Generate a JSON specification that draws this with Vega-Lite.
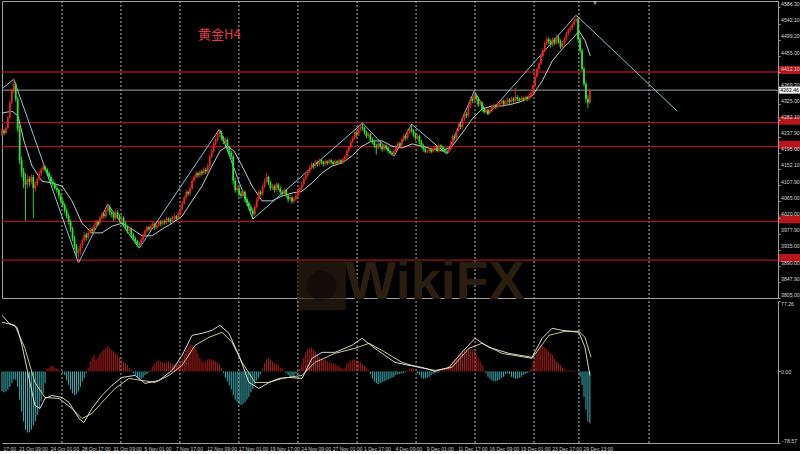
{
"$schema": "https://vega.github.io/schema/vega-lite/v6.json",
"background": "#000000",
"padding": 0,
"spacing": 3,
"bounds": "flush",
"config": {"view": {"stroke": "#a0a0a0", "strokeWidth": 1}, "font": "Liberation Sans"},
"datasets": {
"lv": [{"p":4412.2},{"p":4276},{"p":4211.5},{"p":4011},{"p":3907}],
"sep": [{"i":30.6},{"i":60.7},{"i":90.8},{"i":120.9},{"i":151},{"i":181.2},{"i":211.3},{"i":241.4},{"i":271.5},{"i":294.4},{"i":330.2}],
"zz": [{"i":0,"p":4367},{"i":6,"p":4393},{"i":39,"p":3899},{"i":54,"p":4057},{"i":70,"p":3939},{"i":111,"p":4259},{"i":128,"p":4017},{"i":184,"p":4275},{"i":200,"p":4186},{"i":209,"p":4272},{"i":227,"p":4192},{"i":241,"p":4361},{"i":248,"p":4298},{"i":293,"p":4565}],
"tl": [{"i":293,"p":4565},{"i":344.6,"p":4307}],
"ma": [{"i":0,"p":4302},{"i":5.1,"p":4307},{"i":8.2,"p":4294},{"i":11.2,"p":4227},{"i":15.3,"p":4160},{"i":20.4,"p":4119},{"i":25.5,"p":4114},{"i":30.6,"p":4106},{"i":35.7,"p":4066},{"i":40.8,"p":4006},{"i":45.9,"p":3980},{"i":51,"p":3980},{"i":56.2,"p":3998},{"i":61.3,"p":4006},{"i":66.4,"p":3990},{"i":71.5,"p":3972},{"i":76.6,"p":3972},{"i":81.7,"p":3990},{"i":86.8,"p":4006},{"i":91.9,"p":4025},{"i":97,"p":4066},{"i":102.1,"p":4106},{"i":107.2,"p":4160},{"i":111.3,"p":4200},{"i":114.9,"p":4213},{"i":118.4,"p":4200},{"i":122.5,"p":4160},{"i":127.6,"p":4106},{"i":132.7,"p":4066},{"i":137.8,"p":4066},{"i":142.9,"p":4079},{"i":148,"p":4087},{"i":153.1,"p":4092},{"i":158.2,"p":4114},{"i":163.3,"p":4141},{"i":168.5,"p":4160},{"i":173.6,"p":4168},{"i":178.7,"p":4187},{"i":183.8,"p":4213},{"i":188.9,"p":4227},{"i":194,"p":4227},{"i":199.1,"p":4213},{"i":204.2,"p":4208},{"i":209.3,"p":4219},{"i":214.4,"p":4213},{"i":219.5,"p":4205},{"i":224.6,"p":4200},{"i":229.7,"p":4213},{"i":234.8,"p":4248},{"i":239.9,"p":4286},{"i":245,"p":4313},{"i":250.1,"p":4321},{"i":255.2,"p":4321},{"i":260.3,"p":4326},{"i":265.4,"p":4334},{"i":270.5,"p":4348},{"i":275.7,"p":4388},{"i":280.8,"p":4442},{"i":285.9,"p":4474},{"i":291,"p":4501},{"i":294.5,"p":4522},{"i":297.6,"p":4496},{"i":300.2,"p":4455}],
"dif": [{"i":0,"v":61.6},{"i":3.6,"v":52.8},{"i":7.7,"v":48.4},{"i":10.2,"v":28.6},{"i":13.8,"v":-7.7},{"i":16.8,"v":-37.4},{"i":19.4,"v":-40.7},{"i":21.9,"v":-29.7},{"i":25.5,"v":-26.4},{"i":30.6,"v":-28.6},{"i":34.2,"v":-34.1},{"i":39.3,"v":-51.7},{"i":41.8,"v":-56.1},{"i":45.9,"v":-40.7},{"i":51,"v":-26.4},{"i":56.1,"v":-15.4},{"i":61.2,"v":-6.6},{"i":67.9,"v":-4.4},{"i":73,"v":-13.2},{"i":80.1,"v":-9.9},{"i":86.8,"v":1.1},{"i":91.9,"v":17.6},{"i":97,"v":39.6},{"i":102.1,"v":41.8},{"i":107.2,"v":45.1},{"i":111.2,"v":50.6},{"i":115.8,"v":41.8},{"i":120.9,"v":17.6},{"i":126,"v":-12.1},{"i":131.1,"v":-18.7},{"i":136.3,"v":-12.1},{"i":141.4,"v":-7.7},{"i":146.5,"v":-6.6},{"i":153.1,"v":-7.7},{"i":158.2,"v":14.3},{"i":163.3,"v":20.9},{"i":169.9,"v":20.9},{"i":178.6,"v":28.6},{"i":183.7,"v":36.3},{"i":190.3,"v":25.3},{"i":200.5,"v":9.9},{"i":207.7,"v":6.6},{"i":214.3,"v":4.4},{"i":221,"v":0},{"i":228.1,"v":4.4},{"i":234.7,"v":20.9},{"i":241.4,"v":36.3},{"i":248.5,"v":26.4},{"i":258.7,"v":19.8},{"i":270.5,"v":15.4},{"i":275.6,"v":36.3},{"i":280.7,"v":47.3},{"i":285.8,"v":45.1},{"i":294.4,"v":42.9},{"i":297.5,"v":26.4},{"i":300,"v":-4.4}],
"dea": [{"i":0,"v":53.9},{"i":6.6,"v":50.6},{"i":11.7,"v":25.3},{"i":16.8,"v":-12.1},{"i":21.9,"v":-28.6},{"i":29.1,"v":-29.7},{"i":35.7,"v":-40.7},{"i":40.8,"v":-51.7},{"i":45.9,"v":-46.2},{"i":51,"v":-34.1},{"i":57.7,"v":-18.7},{"i":64.8,"v":-7.7},{"i":71.4,"v":-9.9},{"i":78.1,"v":-12.1},{"i":85.2,"v":-4.4},{"i":91.9,"v":6.6},{"i":98.5,"v":28.6},{"i":105.6,"v":37.4},{"i":112.3,"v":42.9},{"i":117.4,"v":31.9},{"i":122.5,"v":9.9},{"i":129.1,"v":-12.1},{"i":136.3,"v":-12.1},{"i":142.9,"v":-7.7},{"i":153.1,"v":-4.4},{"i":159.7,"v":9.9},{"i":169.9,"v":19.8},{"i":180.1,"v":25.3},{"i":187.3,"v":30.8},{"i":193.9,"v":23.1},{"i":204.1,"v":9.9},{"i":212.8,"v":4.4},{"i":221,"v":1.1},{"i":229.6,"v":4.4},{"i":238.3,"v":25.3},{"i":244.9,"v":30.8},{"i":255.2,"v":19.8},{"i":270.5,"v":14.3},{"i":279.1,"v":39.6},{"i":287.3,"v":44},{"i":294.4,"v":44},{"i":297.5,"v":37.4},{"i":300.6,"v":15.4}],
"bars": [
{"i":0,"o":4245,"h":4262,"l":4240,"c":4255,"m":-22},{"i":1,"o":4255,"h":4260,"l":4242,"c":4248,"m":-23},{"i":2,"o":4248,"h":4266,"l":4245,"c":4262,"m":-22},{"i":3,"o":4262,"h":4295,"l":4258,"c":4290,"m":-20},{"i":4,"o":4290,"h":4336,"l":4286,"c":4330,"m":-17},{"i":5,"o":4330,"h":4368,"l":4325,"c":4362,"m":-13},{"i":6,"o":4362,"h":4393,"l":4355,"c":4380,"m":-9},{"i":7,"o":4380,"h":4386,"l":4332,"c":4340,"m":-9},{"i":8,"o":4340,"h":4345,"l":4252,"c":4260,"m":-17},{"i":9,"o":4260,"h":4268,"l":4165,"c":4175,"m":-31},
{"i":10,"o":4175,"h":4185,"l":4130,"c":4145,"m":-44},{"i":11,"o":4145,"h":4155,"l":4100,"c":4120,"m":-55},{"i":12,"o":4120,"h":4140,"l":4012,"c":4110,"m":-64},{"i":13,"o":4110,"h":4135,"l":4100,"c":4125,"m":-67},{"i":14,"o":4125,"h":4132,"l":4105,"c":4118,"m":-67},{"i":15,"o":4118,"h":4138,"l":4110,"c":4130,"m":-64},{"i":16,"o":4130,"h":4136,"l":4020,"c":4100,"m":-59},{"i":17,"o":4100,"h":4118,"l":4090,"c":4110,"m":-55},{"i":18,"o":4110,"h":4130,"l":4105,"c":4125,"m":-48},{"i":19,"o":4125,"h":4146,"l":4120,"c":4140,"m":-41},
{"i":20,"o":4140,"h":4155,"l":4132,"c":4150,"m":-33},{"i":21,"o":4150,"h":4166,"l":4145,"c":4158,"m":-24},{"i":22,"o":4158,"h":4162,"l":4144,"c":4150,"m":-13},{"i":23,"o":4150,"h":4155,"l":4134,"c":4140,"m":3},{"i":24,"o":4140,"h":4146,"l":4124,"c":4130,"m":4},{"i":25,"o":4130,"h":4135,"l":4112,"c":4118,"m":6},{"i":26,"o":4118,"h":4125,"l":4104,"c":4110,"m":6},{"i":27,"o":4110,"h":4116,"l":4094,"c":4100,"m":4},{"i":28,"o":4100,"h":4108,"l":4088,"c":4095,"m":3},{"i":29,"o":4095,"h":4100,"l":4072,"c":4080,"m":2},
{"i":30,"o":4080,"h":4086,"l":4058,"c":4065,"m":1},{"i":31,"o":4065,"h":4072,"l":4048,"c":4055,"m":-2},{"i":32,"o":4055,"h":4060,"l":4032,"c":4040,"m":-4},{"i":33,"o":4040,"h":4046,"l":4018,"c":4025,"m":-10},{"i":34,"o":4025,"h":4032,"l":4002,"c":4010,"m":-15},{"i":35,"o":4010,"h":4016,"l":3982,"c":3990,"m":-20},{"i":36,"o":3990,"h":3996,"l":3958,"c":3965,"m":-24},{"i":37,"o":3965,"h":3972,"l":3936,"c":3945,"m":-26},{"i":38,"o":3945,"h":3950,"l":3915,"c":3925,"m":-25},{"i":39,"o":3925,"h":3938,"l":3899,"c":3930,"m":-22},
{"i":40,"o":3930,"h":3952,"l":3922,"c":3945,"m":-17},{"i":41,"o":3945,"h":3966,"l":3938,"c":3960,"m":-11},{"i":42,"o":3960,"h":3982,"l":3955,"c":3975,"m":-7},{"i":43,"o":3975,"h":3980,"l":3960,"c":3968,"m":-2},{"i":44,"o":3968,"h":3986,"l":3962,"c":3980,"m":4},{"i":45,"o":3980,"h":3996,"l":3975,"c":3990,"m":11},{"i":46,"o":3990,"h":3995,"l":3978,"c":3985,"m":15},{"i":47,"o":3985,"h":4006,"l":3980,"c":4000,"m":18},{"i":48,"o":4000,"h":4016,"l":3995,"c":4010,"m":13},{"i":49,"o":4010,"h":4014,"l":3998,"c":4005,"m":15},
{"i":50,"o":4005,"h":4026,"l":4000,"c":4020,"m":19},{"i":51,"o":4020,"h":4036,"l":4015,"c":4030,"m":22},{"i":52,"o":4030,"h":4034,"l":4018,"c":4025,"m":24},{"i":53,"o":4025,"h":4046,"l":4020,"c":4040,"m":26},{"i":54,"o":4040,"h":4057,"l":4035,"c":4050,"m":28},{"i":55,"o":4050,"h":4054,"l":4028,"c":4035,"m":26},{"i":56,"o":4035,"h":4040,"l":4022,"c":4030,"m":24},{"i":57,"o":4030,"h":4035,"l":4012,"c":4020,"m":22},{"i":58,"o":4020,"h":4042,"l":4015,"c":4035,"m":20},{"i":59,"o":4035,"h":4040,"l":4018,"c":4025,"m":18},
{"i":60,"o":4025,"h":4030,"l":4008,"c":4015,"m":15},{"i":61,"o":4015,"h":4028,"l":4010,"c":4020,"m":13},{"i":62,"o":4020,"h":4024,"l":3998,"c":4005,"m":11},{"i":63,"o":4005,"h":4010,"l":3988,"c":3995,"m":9},{"i":64,"o":3995,"h":4000,"l":3978,"c":3985,"m":7},{"i":65,"o":3985,"h":3996,"l":3980,"c":3990,"m":4},{"i":66,"o":3990,"h":3994,"l":3968,"c":3975,"m":2},{"i":67,"o":3975,"h":3980,"l":3958,"c":3965,"m":-2},{"i":68,"o":3965,"h":3970,"l":3950,"c":3958,"m":-4},{"i":69,"o":3958,"h":3962,"l":3942,"c":3950,"m":-7},
{"i":70,"o":3950,"h":3956,"l":3939,"c":3948,"m":-8},{"i":71,"o":3948,"h":3968,"l":3944,"c":3962,"m":-8},{"i":72,"o":3962,"h":3980,"l":3956,"c":3975,"m":-7},{"i":73,"o":3975,"h":3990,"l":3970,"c":3985,"m":-4},{"i":74,"o":3985,"h":4000,"l":3980,"c":3995,"m":-3},{"i":75,"o":3995,"h":3999,"l":3984,"c":3990,"m":-1},{"i":76,"o":3990,"h":4004,"l":3985,"c":3998,"m":2},{"i":77,"o":3998,"h":4012,"l":3992,"c":4005,"m":6},{"i":78,"o":4005,"h":4008,"l":3988,"c":3995,"m":9},{"i":79,"o":3995,"h":4006,"l":3990,"c":4000,"m":11},
{"i":80,"o":4000,"h":4016,"l":3995,"c":4010,"m":12},{"i":81,"o":4010,"h":4014,"l":3998,"c":4005,"m":11},{"i":82,"o":4005,"h":4018,"l":4000,"c":4012,"m":10},{"i":83,"o":4012,"h":4016,"l":4002,"c":4008,"m":9},{"i":84,"o":4008,"h":4024,"l":4004,"c":4018,"m":10},{"i":85,"o":4018,"h":4022,"l":4008,"c":4015,"m":11},{"i":86,"o":4015,"h":4020,"l":4004,"c":4010,"m":9},{"i":87,"o":4010,"h":4026,"l":4006,"c":4020,"m":8},{"i":88,"o":4020,"h":4032,"l":4015,"c":4025,"m":7},{"i":89,"o":4025,"h":4028,"l":4012,"c":4018,"m":8},
{"i":90,"o":4018,"h":4036,"l":4014,"c":4030,"m":9},{"i":91,"o":4030,"h":4050,"l":4026,"c":4045,"m":11},{"i":92,"o":4045,"h":4066,"l":4040,"c":4060,"m":15},{"i":93,"o":4060,"h":4080,"l":4055,"c":4075,"m":20},{"i":94,"o":4075,"h":4096,"l":4070,"c":4090,"m":24},{"i":95,"o":4090,"h":4094,"l":4078,"c":4085,"m":28},{"i":96,"o":4085,"h":4106,"l":4080,"c":4100,"m":30},{"i":97,"o":4100,"h":4126,"l":4095,"c":4120,"m":29},{"i":98,"o":4120,"h":4136,"l":4114,"c":4130,"m":26},{"i":99,"o":4130,"h":4146,"l":4125,"c":4140,"m":24},
{"i":100,"o":4140,"h":4144,"l":4128,"c":4135,"m":20},{"i":101,"o":4135,"h":4150,"l":4130,"c":4145,"m":15},{"i":102,"o":4145,"h":4150,"l":4134,"c":4140,"m":11},{"i":103,"o":4140,"h":4156,"l":4135,"c":4150,"m":10},{"i":104,"o":4150,"h":4155,"l":4138,"c":4145,"m":11},{"i":105,"o":4145,"h":4166,"l":4140,"c":4160,"m":13},{"i":106,"o":4160,"h":4190,"l":4155,"c":4185,"m":14},{"i":107,"o":4185,"h":4206,"l":4180,"c":4200,"m":13},{"i":108,"o":4200,"h":4226,"l":4195,"c":4220,"m":12},{"i":109,"o":4220,"h":4236,"l":4214,"c":4230,"m":11},
{"i":110,"o":4230,"h":4250,"l":4225,"c":4245,"m":10},{"i":111,"o":4245,"h":4259,"l":4238,"c":4250,"m":8},{"i":112,"o":4250,"h":4255,"l":4228,"c":4235,"m":4},{"i":113,"o":4235,"h":4240,"l":4218,"c":4225,"m":-2},{"i":114,"o":4225,"h":4236,"l":4220,"c":4230,"m":-7},{"i":115,"o":4230,"h":4234,"l":4204,"c":4210,"m":-11},{"i":116,"o":4210,"h":4215,"l":4188,"c":4195,"m":-15},{"i":117,"o":4195,"h":4200,"l":4178,"c":4185,"m":-20},{"i":118,"o":4185,"h":4190,"l":4110,"c":4120,"m":-26},{"i":119,"o":4120,"h":4128,"l":4088,"c":4095,"m":-31},
{"i":120,"o":4095,"h":4108,"l":4090,"c":4100,"m":-34},{"i":121,"o":4100,"h":4105,"l":4078,"c":4085,"m":-36},{"i":122,"o":4085,"h":4092,"l":4072,"c":4080,"m":-37},{"i":123,"o":4080,"h":4096,"l":4075,"c":4090,"m":-36},{"i":124,"o":4090,"h":4094,"l":4062,"c":4070,"m":-34},{"i":125,"o":4070,"h":4076,"l":4052,"c":4060,"m":-31},{"i":126,"o":4060,"h":4066,"l":4042,"c":4050,"m":-28},{"i":127,"o":4050,"h":4056,"l":4032,"c":4040,"m":-23},{"i":128,"o":4040,"h":4046,"l":4017,"c":4030,"m":-19},{"i":129,"o":4030,"h":4056,"l":4025,"c":4050,"m":-14},
{"i":130,"o":4050,"h":4076,"l":4045,"c":4070,"m":-10},{"i":131,"o":4070,"h":4096,"l":4065,"c":4090,"m":-7},{"i":132,"o":4090,"h":4095,"l":4078,"c":4085,"m":-3},{"i":133,"o":4085,"h":4110,"l":4080,"c":4105,"m":3},{"i":134,"o":4105,"h":4126,"l":4100,"c":4120,"m":9},{"i":135,"o":4120,"h":4141,"l":4115,"c":4130,"m":13},{"i":136,"o":4130,"h":4134,"l":4108,"c":4115,"m":15},{"i":137,"o":4115,"h":4120,"l":4094,"c":4100,"m":13},{"i":138,"o":4100,"h":4112,"l":4095,"c":4105,"m":11},{"i":139,"o":4105,"h":4110,"l":4088,"c":4095,"m":9},
{"i":140,"o":4095,"h":4116,"l":4090,"c":4110,"m":8},{"i":141,"o":4110,"h":4114,"l":4094,"c":4100,"m":7},{"i":142,"o":4100,"h":4105,"l":4084,"c":4090,"m":4},{"i":143,"o":4090,"h":4095,"l":4078,"c":4085,"m":3},{"i":144,"o":4085,"h":4100,"l":4080,"c":4095,"m":1},{"i":145,"o":4095,"h":4098,"l":4074,"c":4080,"m":-2},{"i":146,"o":4080,"h":4085,"l":4062,"c":4070,"m":-4},{"i":147,"o":4070,"h":4082,"l":4065,"c":4075,"m":-7},{"i":148,"o":4075,"h":4078,"l":4058,"c":4065,"m":-7},{"i":149,"o":4065,"h":4076,"l":4060,"c":4070,"m":-6},
{"i":150,"o":4070,"h":4086,"l":4065,"c":4080,"m":-3},{"i":151,"o":4080,"h":4096,"l":4075,"c":4090,"m":-1},{"i":152,"o":4090,"h":4106,"l":4085,"c":4100,"m":3},{"i":153,"o":4100,"h":4116,"l":4095,"c":4110,"m":9},{"i":154,"o":4110,"h":4130,"l":4105,"c":4125,"m":15},{"i":155,"o":4125,"h":4140,"l":4120,"c":4135,"m":21},{"i":156,"o":4135,"h":4150,"l":4130,"c":4145,"m":24},{"i":157,"o":4145,"h":4160,"l":4140,"c":4155,"m":25},{"i":158,"o":4155,"h":4170,"l":4150,"c":4165,"m":26},{"i":159,"o":4165,"h":4168,"l":4152,"c":4160,"m":24},
{"i":160,"o":4160,"h":4176,"l":4155,"c":4170,"m":22},{"i":161,"o":4170,"h":4174,"l":4158,"c":4165,"m":19},{"i":162,"o":4165,"h":4180,"l":4160,"c":4175,"m":15},{"i":163,"o":4175,"h":4178,"l":4164,"c":4170,"m":14},{"i":164,"o":4170,"h":4174,"l":4158,"c":4165,"m":13},{"i":165,"o":4165,"h":4178,"l":4160,"c":4172,"m":12},{"i":166,"o":4172,"h":4175,"l":4162,"c":4168,"m":11},{"i":167,"o":4168,"h":4180,"l":4164,"c":4175,"m":10},{"i":168,"o":4175,"h":4178,"l":4165,"c":4170,"m":9},{"i":169,"o":4170,"h":4174,"l":4160,"c":4165,"m":9},
{"i":170,"o":4165,"h":4178,"l":4160,"c":4172,"m":8},{"i":171,"o":4172,"h":4175,"l":4162,"c":4168,"m":7},{"i":172,"o":4168,"h":4180,"l":4164,"c":4175,"m":6},{"i":173,"o":4175,"h":4178,"l":4165,"c":4170,"m":4},{"i":174,"o":4170,"h":4184,"l":4166,"c":4178,"m":3},{"i":175,"o":4178,"h":4190,"l":4174,"c":4185,"m":4},{"i":176,"o":4185,"h":4206,"l":4180,"c":4200,"m":8},{"i":177,"o":4200,"h":4216,"l":4195,"c":4210,"m":10},{"i":178,"o":4210,"h":4230,"l":4205,"c":4225,"m":12},{"i":179,"o":4225,"h":4240,"l":4220,"c":4235,"m":13},
{"i":180,"o":4235,"h":4256,"l":4230,"c":4250,"m":13},{"i":181,"o":4250,"h":4254,"l":4238,"c":4245,"m":12},{"i":182,"o":4245,"h":4264,"l":4240,"c":4258,"m":11},{"i":183,"o":4258,"h":4272,"l":4252,"c":4265,"m":10},{"i":184,"o":4265,"h":4275,"l":4255,"c":4262,"m":8},{"i":185,"o":4262,"h":4266,"l":4244,"c":4250,"m":6},{"i":186,"o":4250,"h":4255,"l":4234,"c":4240,"m":3},{"i":187,"o":4240,"h":4250,"l":4236,"c":4245,"m":1},{"i":188,"o":4245,"h":4248,"l":4224,"c":4230,"m":-3},{"i":189,"o":4230,"h":4236,"l":4218,"c":4225,"m":-8},
{"i":190,"o":4225,"h":4228,"l":4208,"c":4215,"m":-11},{"i":191,"o":4215,"h":4220,"l":4190,"c":4210,"m":-13},{"i":192,"o":4210,"h":4226,"l":4205,"c":4220,"m":-14},{"i":193,"o":4220,"h":4224,"l":4206,"c":4212,"m":-13},{"i":194,"o":4212,"h":4216,"l":4198,"c":4205,"m":-12},{"i":195,"o":4205,"h":4220,"l":4200,"c":4215,"m":-11},{"i":196,"o":4215,"h":4218,"l":4202,"c":4208,"m":-10},{"i":197,"o":4208,"h":4212,"l":4194,"c":4200,"m":-9},{"i":198,"o":4200,"h":4205,"l":4190,"c":4195,"m":-8},{"i":199,"o":4195,"h":4200,"l":4187,"c":4192,"m":-7},
{"i":200,"o":4192,"h":4206,"l":4186,"c":4200,"m":-6},{"i":201,"o":4200,"h":4216,"l":4195,"c":4210,"m":-4},{"i":202,"o":4210,"h":4226,"l":4205,"c":4220,"m":-3},{"i":203,"o":4220,"h":4224,"l":4208,"c":4215,"m":-3},{"i":204,"o":4215,"h":4236,"l":4210,"c":4230,"m":-2},{"i":205,"o":4230,"h":4246,"l":4225,"c":4240,"m":-2},{"i":206,"o":4240,"h":4244,"l":4228,"c":4235,"m":-1},{"i":207,"o":4235,"h":4256,"l":4230,"c":4250,"m":1},{"i":208,"o":4250,"h":4266,"l":4245,"c":4260,"m":3},{"i":209,"o":4260,"h":4272,"l":4248,"c":4255,"m":4},
{"i":210,"o":4255,"h":4258,"l":4238,"c":4245,"m":3},{"i":211,"o":4245,"h":4250,"l":4228,"c":4235,"m":1},{"i":212,"o":4235,"h":4246,"l":4230,"c":4240,"m":-2},{"i":213,"o":4240,"h":4244,"l":4218,"c":4225,"m":-4},{"i":214,"o":4225,"h":4230,"l":4208,"c":4215,"m":-7},{"i":215,"o":4215,"h":4220,"l":4198,"c":4205,"m":-8},{"i":216,"o":4205,"h":4210,"l":4194,"c":4198,"m":-8},{"i":217,"o":4198,"h":4204,"l":4193,"c":4200,"m":-7},{"i":218,"o":4200,"h":4208,"l":4194,"c":4204,"m":-6},{"i":219,"o":4204,"h":4207,"l":4194,"c":4198,"m":-4},
{"i":220,"o":4198,"h":4210,"l":4195,"c":4205,"m":-3},{"i":221,"o":4205,"h":4216,"l":4200,"c":4210,"m":-2},{"i":222,"o":4210,"h":4214,"l":4196,"c":4200,"m":-1},{"i":223,"o":4200,"h":4220,"l":4196,"c":4215,"m":-1},{"i":224,"o":4215,"h":4218,"l":4204,"c":4210,"m":1},{"i":225,"o":4210,"h":4214,"l":4198,"c":4205,"m":2},{"i":226,"o":4205,"h":4210,"l":4195,"c":4198,"m":3},{"i":227,"o":4198,"h":4202,"l":4192,"c":4196,"m":4},{"i":228,"o":4196,"h":4210,"l":4194,"c":4205,"m":6},{"i":229,"o":4205,"h":4226,"l":4200,"c":4220,"m":8},
{"i":230,"o":4220,"h":4246,"l":4215,"c":4240,"m":11},{"i":231,"o":4240,"h":4244,"l":4228,"c":4235,"m":13},{"i":232,"o":4235,"h":4260,"l":4230,"c":4255,"m":15},{"i":233,"o":4255,"h":4276,"l":4250,"c":4270,"m":18},{"i":234,"o":4270,"h":4274,"l":4258,"c":4265,"m":20},{"i":235,"o":4265,"h":4290,"l":4260,"c":4285,"m":22},{"i":236,"o":4285,"h":4306,"l":4280,"c":4300,"m":23},{"i":237,"o":4300,"h":4304,"l":4288,"c":4295,"m":24},{"i":238,"o":4295,"h":4326,"l":4290,"c":4320,"m":25},{"i":239,"o":4320,"h":4346,"l":4315,"c":4340,"m":24},
{"i":240,"o":4340,"h":4345,"l":4328,"c":4335,"m":23},{"i":241,"o":4335,"h":4361,"l":4330,"c":4350,"m":22},{"i":242,"o":4350,"h":4354,"l":4334,"c":4340,"m":19},{"i":243,"o":4340,"h":4345,"l":4318,"c":4325,"m":15},{"i":244,"o":4325,"h":4336,"l":4320,"c":4330,"m":11},{"i":245,"o":4330,"h":4334,"l":4305,"c":4312,"m":7},{"i":246,"o":4312,"h":4318,"l":4300,"c":4305,"m":2},{"i":247,"o":4305,"h":4316,"l":4300,"c":4310,"m":-2},{"i":248,"o":4310,"h":4314,"l":4298,"c":4302,"m":-6},{"i":249,"o":4302,"h":4316,"l":4300,"c":4310,"m":-8},
{"i":250,"o":4310,"h":4324,"l":4305,"c":4318,"m":-10},{"i":251,"o":4318,"h":4328,"l":4314,"c":4322,"m":-11},{"i":252,"o":4322,"h":4326,"l":4312,"c":4318,"m":-11},{"i":253,"o":4318,"h":4330,"l":4314,"c":4325,"m":-10},{"i":254,"o":4325,"h":4336,"l":4320,"c":4330,"m":-9},{"i":255,"o":4330,"h":4340,"l":4325,"c":4335,"m":-7},{"i":256,"o":4335,"h":4338,"l":4320,"c":4325,"m":-6},{"i":257,"o":4325,"h":4336,"l":4322,"c":4330,"m":-3},{"i":258,"o":4330,"h":4344,"l":4326,"c":4338,"m":-2},{"i":259,"o":4338,"h":4342,"l":4326,"c":4332,"m":-3},
{"i":260,"o":4332,"h":4346,"l":4328,"c":4340,"m":-6},{"i":261,"o":4340,"h":4344,"l":4330,"c":4335,"m":-7},{"i":262,"o":4335,"h":4370,"l":4330,"c":4345,"m":-8},{"i":263,"o":4345,"h":4350,"l":4334,"c":4340,"m":-8},{"i":264,"o":4340,"h":4344,"l":4330,"c":4336,"m":-7},{"i":265,"o":4336,"h":4348,"l":4332,"c":4342,"m":-6},{"i":266,"o":4342,"h":4346,"l":4332,"c":4338,"m":-4},{"i":267,"o":4338,"h":4350,"l":4334,"c":4345,"m":-3},{"i":268,"o":4345,"h":4348,"l":4334,"c":4340,"m":-2},{"i":269,"o":4340,"h":4354,"l":4336,"c":4348,"m":-1},
{"i":270,"o":4348,"h":4360,"l":4344,"c":4355,"m":3},{"i":271,"o":4355,"h":4380,"l":4350,"c":4375,"m":9},{"i":272,"o":4375,"h":4406,"l":4370,"c":4400,"m":15},{"i":273,"o":4400,"h":4426,"l":4395,"c":4420,"m":21},{"i":274,"o":4420,"h":4440,"l":4415,"c":4435,"m":25},{"i":275,"o":4435,"h":4460,"l":4430,"c":4455,"m":29},{"i":276,"o":4455,"h":4476,"l":4450,"c":4470,"m":28},{"i":277,"o":4470,"h":4496,"l":4465,"c":4490,"m":26},{"i":278,"o":4490,"h":4508,"l":4484,"c":4500,"m":24},{"i":279,"o":4500,"h":4505,"l":4488,"c":4495,"m":22},
{"i":280,"o":4495,"h":4500,"l":4478,"c":4485,"m":20},{"i":281,"o":4485,"h":4506,"l":4480,"c":4500,"m":18},{"i":282,"o":4500,"h":4504,"l":4484,"c":4490,"m":14},{"i":283,"o":4490,"h":4512,"l":4486,"c":4505,"m":11},{"i":284,"o":4505,"h":4510,"l":4488,"c":4495,"m":9},{"i":285,"o":4495,"h":4500,"l":4474,"c":4480,"m":7},{"i":286,"o":4480,"h":4496,"l":4476,"c":4490,"m":4},{"i":287,"o":4490,"h":4506,"l":4485,"c":4500,"m":2},{"i":288,"o":4500,"h":4520,"l":4495,"c":4515,"m":1},{"i":289,"o":4515,"h":4530,"l":4510,"c":4525,"m":1},
{"i":290,"o":4525,"h":4536,"l":4520,"c":4530,"m":1},{"i":291,"o":4530,"h":4546,"l":4525,"c":4540,"m":1},{"i":292,"o":4540,"h":4556,"l":4535,"c":4550,"m":1},{"i":293,"o":4550,"h":4565,"l":4545,"c":4555,"m":0.5},{"i":294,"o":4555,"h":4560,"l":4494,"c":4500,"m":-1},{"i":295,"o":4500,"h":4506,"l":4462,"c":4470,"m":-6},{"i":296,"o":4470,"h":4476,"l":4414,"c":4420,"m":-15},{"i":297,"o":4420,"h":4426,"l":4374,"c":4380,"m":-28},{"i":298,"o":4380,"h":4386,"l":4330,"c":4340,"m":-42},{"i":299,"o":4340,"h":4350,"l":4315,"c":4330,"m":-55},
{"i":300,"o":4330,"h":4368,"l":4326,"c":4363,"m":-57}
]
},
"vconcat": [
{
"width": 776, "height": 297,
"resolve": {"axis": {"x": "independent", "y": "independent"}},
"layer": [
{"data": {"name": "sep"}, "mark": {"type": "rule", "strokeDash": [2, 2], "color": "#b4b4b4", "strokeWidth": 1},
 "encoding": {"x": {"field": "i", "type": "quantitative", "scale": {"domain": [0, 396]}, "axis": null}}},
{"data": {"name": "lv"}, "mark": {"type": "rule", "color": "#a3161e", "strokeWidth": 1.3},
 "encoding": {"y": {"field": "p", "type": "quantitative", "scale": {"domain": [3805, 4603], "zero": false, "nice": false},
   "axis": {"orient": "right", "values": [4586.3, 4542.1, 4499.2, 4455, 4412.1, 4369.2, 4325, 4282.1, 4237.9, 4195, 4152.1, 4107.9, 4065, 4020, 3977.9, 3935, 3890, 3847.9, 3805], "format": ".2f", "labelFontSize": 5.2, "labelColor": "#d6d6d6", "labelFont": "Liberation Sans", "tickSize": 2, "tickColor": "#a0a0a0", "domainColor": "#a0a0a0", "labelPadding": 0.5, "labelOffset": -4, "grid": false, "title": null, "labelOverlap": false, "labelBound": false, "zindex": 1}}}},
{"data": {"values": [{}]}, "mark": {"type": "rule", "color": "#a0a0a0", "strokeWidth": 1},
 "encoding": {"y": {"datum": 4363.46, "type": "quantitative", "scale": {"domain": [3805, 4603], "zero": false, "nice": false}, "axis": null}}},
{"data": {"values": [{}]}, "mark": {"type": "point", "shape": "square", "filled": true, "size": 2400, "color": "#2a1e10", "opacity": 0.7},
 "encoding": {"x": {"datum": 163, "type": "quantitative", "scale": {"domain": [0, 396]}, "axis": null}, "y": {"datum": 3838, "type": "quantitative", "scale": {"domain": [3805, 4603], "zero": false, "nice": false}, "axis": null}}},
{"data": {"values": [{}]}, "mark": {"type": "point", "shape": "circle", "filled": true, "size": 900, "color": "#000000", "opacity": 0.35},
 "encoding": {"x": {"datum": 163, "type": "quantitative", "scale": {"domain": [0, 396]}, "axis": null}, "y": {"datum": 3838, "type": "quantitative", "scale": {"domain": [3805, 4603], "zero": false, "nice": false}, "axis": null}}},
{"data": {"values": [{}]}, "mark": {"type": "text", "text": "WikiFX", "fontSize": 54, "fontWeight": "bold", "font": "Liberation Sans", "color": "#2a1e10", "align": "center", "baseline": "middle"},
 "encoding": {"x": {"datum": 221, "type": "quantitative", "scale": {"domain": [0, 396]}, "axis": null}, "y": {"datum": 3845, "type": "quantitative", "scale": {"domain": [3805, 4603], "zero": false, "nice": false}, "axis": null}}},
{"data": {"name": "ma"}, "mark": {"type": "line", "color": "#cfe4e4", "strokeWidth": 0.9, "clip": true},
 "encoding": {"x": {"field": "i", "type": "quantitative", "scale": {"domain": [0, 396]}, "axis": null}, "y": {"field": "p", "type": "quantitative", "scale": {"domain": [3805, 4603], "zero": false, "nice": false}, "axis": null}}},
{"data": {"name": "zz"}, "mark": {"type": "line", "color": "#86c6da", "strokeWidth": 1, "clip": true},
 "encoding": {"x": {"field": "i", "type": "quantitative", "scale": {"domain": [0, 396]}, "axis": null}, "y": {"field": "p", "type": "quantitative", "scale": {"domain": [3805, 4603], "zero": false, "nice": false}, "axis": null}}},
{"data": {"name": "tl"}, "mark": {"type": "line", "color": "#8cc4d0", "strokeWidth": 1, "clip": true},
 "encoding": {"x": {"field": "i", "type": "quantitative", "scale": {"domain": [0, 396]}, "axis": null}, "y": {"field": "p", "type": "quantitative", "scale": {"domain": [3805, 4603], "zero": false, "nice": false}, "axis": null}}},
{"data": {"name": "bars"}, "mark": {"type": "rule", "strokeWidth": 0.9},
 "encoding": {"x": {"field": "i", "type": "quantitative", "scale": {"domain": [0, 396]}, "axis": null}, "y": {"field": "l", "type": "quantitative", "scale": {"domain": [3805, 4603], "zero": false, "nice": false}, "axis": null}, "y2": {"field": "h"},
  "color": {"condition": {"test": "datum.c >= datum.o", "value": "#e8251c"}, "value": "#2ce62c"}}},
{"data": {"name": "bars"}, "mark": {"type": "rule", "strokeWidth": 1.8},
 "encoding": {"x": {"field": "i", "type": "quantitative", "scale": {"domain": [0, 396]}, "axis": null}, "y": {"field": "o", "type": "quantitative", "scale": {"domain": [3805, 4603], "zero": false, "nice": false}, "axis": null}, "y2": {"field": "c"},
  "color": {"condition": {"test": "datum.c >= datum.o", "value": "#e8251c"}, "value": "#2ce62c"}}},
{"data": {"values": [{}]}, "mark": {"type": "text", "text": "黄金H4", "fontSize": 13, "font": "Noto Sans CJK SC", "color": "#e23a48", "align": "left", "baseline": "middle"},
 "encoding": {"x": {"datum": 100, "type": "quantitative", "scale": {"domain": [0, 396]}, "axis": null}, "y": {"datum": 4511, "type": "quantitative", "scale": {"domain": [3805, 4603], "zero": false, "nice": false}, "axis": null}}},
{"data": {"name": "lv"}, "mark": {"type": "tick", "orient": "horizontal", "size": 22, "thickness": 8, "color": "#b8141c", "opacity": 1, "yOffset": -2},
 "encoding": {"x": {"datum": 402.1, "type": "quantitative", "scale": {"domain": [0, 396]}, "axis": null}, "y": {"field": "p", "type": "quantitative", "scale": {"domain": [3805, 4603], "zero": false, "nice": false}, "axis": null}}},
{"data": {"values": [{}]}, "mark": {"type": "tick", "orient": "horizontal", "size": 21, "thickness": 7, "color": "#f2f2f2", "opacity": 1},
 "encoding": {"x": {"datum": 401.9, "type": "quantitative", "scale": {"domain": [0, 396]}, "axis": null}, "y": {"datum": 4363.46, "type": "quantitative", "scale": {"domain": [3805, 4603], "zero": false, "nice": false}, "axis": null}}},
{"data": {"values": [{}]}, "mark": {"type": "text", "text": "4363.46", "fontSize": 5.2, "font": "Liberation Sans", "color": "#000000", "align": "center", "baseline": "middle"},
 "encoding": {"x": {"datum": 401.9, "type": "quantitative", "scale": {"domain": [0, 396]}, "axis": null}, "y": {"datum": 4363.46, "type": "quantitative", "scale": {"domain": [3805, 4603], "zero": false, "nice": false}, "axis": null}}},
{"data": {"values": [{}]}, "mark": {"type": "point", "shape": "triangle-down", "filled": true, "size": 16, "color": "#d8d8d8"},
 "encoding": {"x": {"datum": 302.6, "type": "quantitative", "scale": {"domain": [0, 396]}, "axis": null}, "y": {"datum": 4597, "type": "quantitative", "scale": {"domain": [3805, 4603], "zero": false, "nice": false}, "axis": null}}}
]
},
{
"width": 776, "height": 142,
"view": {"stroke": null},
"resolve": {"axis": {"x": "independent", "y": "independent"}},
"layer": [
{"data": {"name": "sep"}, "mark": {"type": "rule", "strokeDash": [2, 2], "color": "#b4b4b4", "strokeWidth": 1},
 "encoding": {"x": {"field": "i", "type": "quantitative", "scale": {"domain": [0, 396]},
   "axis": {"orient": "bottom", "values": [0, 8, 24, 40, 56, 72, 88, 104, 120, 136, 152, 168, 184, 200, 216, 232, 248, 264, 280, 296],
    "labelExpr": "datum.value == 0 ? '17:00' : ['21 Oct 09:00','24 Oct 01:00','28 Oct 17:00','31 Oct 09:00','5 Nov 01:00','7 Nov 17:00','12 Nov 09:00','17 Nov 01:00','19 Nov 17:00','24 Nov 09:00','27 Nov 01:00','1 Dec 17:00','4 Dec 09:00','9 Dec 01:00','11 Dec 17:00','16 Dec 09:00','19 Dec 01:00','23 Dec 17:00','29 Dec 13:00'][(datum.value - 8) / 16]",
    "labelAlign": "left", "labelOffset": 1, "labelOverlap": false, "labelBound": false, "labelFlush": false, "labelFontSize": 5, "labelFont": "Liberation Sans", "labelColor": "#d0d0d0", "ticks": false, "labelPadding": 3, "domain": true, "domainColor": "#a0a0a0", "grid": false, "title": null}}}},
{"data": {"name": "bars"}, "mark": {"type": "rule", "strokeWidth": 1},
 "encoding": {"x": {"field": "i", "type": "quantitative", "scale": {"domain": [0, 396]}, "axis": null},
  "y": {"field": "m", "type": "quantitative", "scale": {"domain": [-78.57, 77.26], "zero": false, "nice": false},
   "axis": {"orient": "right", "values": [77.26, 0, -78.57], "format": ".2f", "labelFlush": true, "labelFontSize": 5.2, "labelColor": "#d6d6d6", "labelFont": "Liberation Sans", "tickSize": 2, "tickColor": "#a0a0a0", "domainColor": "#a0a0a0", "labelPadding": 0.5, "grid": false, "title": null, "labelOverlap": false, "labelBound": false}},
  "y2": {"datum": 0},
  "color": {"condition": {"test": "datum.m > 0", "value": "#b01c1c"}, "value": "#3cb0b4"}}},
{"data": {"name": "dea"}, "mark": {"type": "line", "color": "#e6dc9c", "strokeWidth": 0.9},
 "encoding": {"x": {"field": "i", "type": "quantitative", "scale": {"domain": [0, 396]}, "axis": null}, "y": {"field": "v", "type": "quantitative", "scale": {"domain": [-78.57, 77.26], "zero": false, "nice": false}, "axis": null}}},
{"data": {"name": "dif"}, "mark": {"type": "line", "color": "#ececec", "strokeWidth": 0.9},
 "encoding": {"x": {"field": "i", "type": "quantitative", "scale": {"domain": [0, 396]}, "axis": null}, "y": {"field": "v", "type": "quantitative", "scale": {"domain": [-78.57, 77.26], "zero": false, "nice": false}, "axis": null}}}
]
}
]
}
